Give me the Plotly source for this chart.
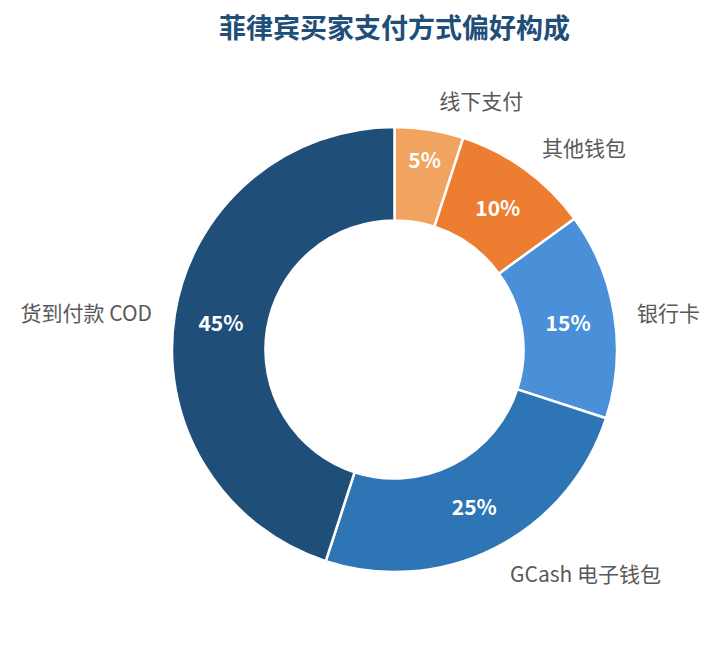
import plotly.graph_objects as go

labels = ['线下支付', '其他钱包', '银行卡', 'GCash 电子钱包', '货到付款 COD']
shares = [5, 10, 15, 25, 45]
colors = ['#f0a460', '#ed7d31', '#4a90d9', '#2e75b6', '#1f4e79']

font_family = 'Noto Sans CJK SC, Microsoft YaHei, sans-serif'

W, H = 716, 645
cx, cy = 386.5, 341.5   # pie centre in pixels from top-left of the figure
r_ring, r_text = 222.5, 238


def dom(r):
    return dict(x=[(cx - r) / W, (cx + r) / W],
                y=[(H - cy - r) / H, (H - cy + r) / H])


fig = go.Figure()

# ring with percentages inside
fig.add_trace(go.Pie(
    labels=labels, values=shares, hole=0.58, sort=False,
    direction='clockwise', rotation=0, domain=dom(r_ring),
    marker=dict(colors=colors, line=dict(color='white', width=2.5)),
    textinfo='percent', textposition='inside', insidetextorientation='horizontal',
    textfont=dict(color='white', size=21, family=font_family, weight='bold'),
    showlegend=False,
))

# same ring again, slightly bigger and invisible, only for the outside labels
fig.add_trace(go.Pie(
    labels=labels, values=shares, hole=0.58, sort=False,
    direction='clockwise', rotation=0, domain=dom(r_text),
    marker=dict(colors=['rgba(0,0,0,0)'] * len(labels), line=dict(width=0)),
    textinfo='label', textposition='outside',
    textfont=dict(color='#595959', size=21, family=font_family),
    showlegend=False, hoverinfo='skip',
))

fig.update_layout(
    width=W, height=H,
    paper_bgcolor='white', plot_bgcolor='white',
    margin=dict(l=0, r=0, t=0, b=0),
    title=dict(
        text='<b>菲律宾买家支付方式偏好构成</b>',
        x=cx / W, xref='paper', xanchor='center',
        y=1 - 21 / H, yref='container', yanchor='middle',
        font=dict(size=27, color='#1f4e79', family=font_family),
    ),
)

fig.write_html('out.html')
